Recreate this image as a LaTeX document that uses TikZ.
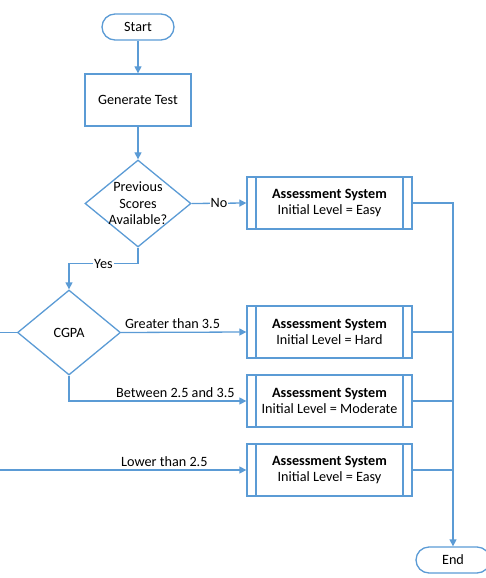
\documentclass[tikz,border=0pt]{standalone}
\usepackage{fontspec}
\setmainfont{Carlito}
\usepackage{tikz}
\usetikzlibrary{arrows.meta,positioning,shapes}
\usepackage{xcolor}
\definecolor{lineblue}{HTML}{5B9BD5}

\begin{document}
\begin{tikzpicture}[x=1pt, y=1pt, line width=1.3pt,
    font=\fontsize{14.2}{16.5}\selectfont,
    flow/.style={-{Triangle[width=7pt,length=7pt]}, draw=lineblue},
    conn/.style={draw=lineblue},
    terminal/.style={draw=lineblue, rounded corners=13pt, minimum width=72pt, minimum height=26pt, inner sep=0pt},
    process/.style={draw=lineblue, minimum width=106pt, minimum height=52pt},
    decision/.style={draw=lineblue, diamond, inner sep=0pt},
    subproc/.style={draw=lineblue, minimum width=165pt, minimum height=52pt, align=center, inner sep=0pt,
      path picture={
        \draw[lineblue] ([xshift=9pt]path picture bounding box.north west) -- ([xshift=9pt]path picture bounding box.south west);
        \draw[lineblue] ([xshift=-9pt]path picture bounding box.north east) -- ([xshift=-9pt]path picture bounding box.south east);
      }},
    lbl/.style={fill=white, inner sep=1pt}]
  \useasboundingbox (0,0) rectangle (486,-578);
  \clip (0,0) rectangle (486,-578);

  \node[terminal] (start) at (138,-27) {Start};
  \node[process] (gen) at (138,-100) {Generate Test};
  \node[decision, minimum width=106pt, minimum height=87pt,
    label={[align=center]center:Previous\\Scores\\Available?}] (prev) at (138,-203.5) {};
  \node[decision, minimum width=103pt, minimum height=85pt,
    label={center:CGPA}] (cgpa) at (69,-332.5) {};

  \node[subproc] (as1) at (329.5,-203) {\textbf{Assessment System}\\Initial Level = Easy};
  \node[subproc] (as2) at (329.5,-332) {\textbf{Assessment System}\\Initial Level = Hard};
  \node[subproc] (as3) at (329.5,-401) {\textbf{Assessment System}\\Initial Level = Moderate};
  \node[subproc] (as4) at (329.5,-470) {\textbf{Assessment System}\\Initial Level = Easy};

  \node[terminal, minimum width=74pt] (end) at (453,-560) {End};

  % main flow
  \draw[flow] (start) -- (gen);
  \draw[flow] (gen) -- (prev);
  \draw[flow] (prev.east) -- node[lbl] {No} (as1.west);
  \draw[flow] (prev.south) -- ++(0,-16) -| node[pos=0.25, lbl] {Yes} (cgpa.north);

  % CGPA branches
  \draw[flow] (cgpa.east) -- node[pos=0.41, anchor=south, inner sep=3pt] {Greater than 3.5} (as2.west);
  \draw[flow] (cgpa.south) |- node[pos=0.80, anchor=south, inner sep=3pt] {Between 2.5 and 3.5} (as3.west);
  \draw[flow] (cgpa.west) -- ++(-30,0) |- node[pos=0.842, anchor=south, inner sep=3pt] {Lower than 2.5} (as4.west);

  % to end
  \draw[flow] (as1.east) -| (end.north);
  \draw[conn] (as2.east) -- (as2.east -| end.north);
  \draw[conn] (as3.east) -- (as3.east -| end.north);
  \draw[conn] (as4.east) -- (as4.east -| end.north);
\end{tikzpicture}
\end{document}
